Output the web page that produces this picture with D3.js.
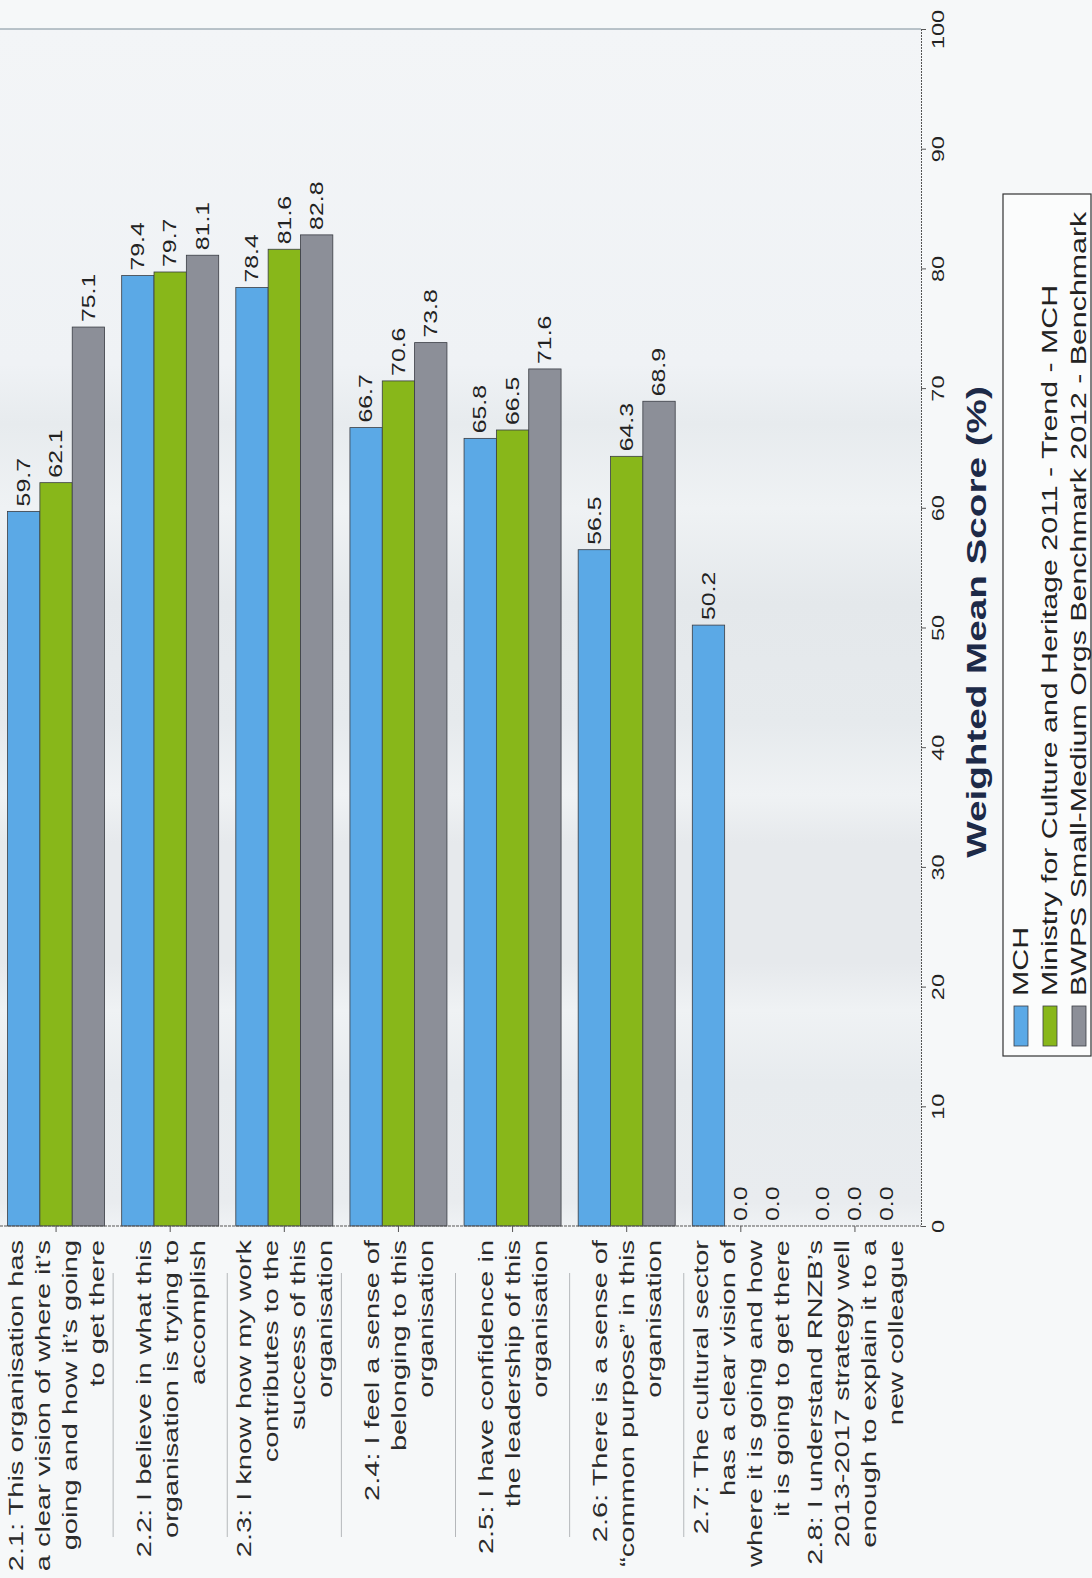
<!DOCTYPE html>
<html>
<head>
<meta charset="utf-8">
<script src="https://cdn.jsdelivr.net/npm/d3@7"></script>
<style>
  html, body { margin: 0; padding: 0; background: #f6f8f9; }
  svg { display: block; font-family: "Liberation Sans", Arial, sans-serif; }
</style>
</head>
<body>
<svg id="chart" width="1092" height="1578"></svg>
<script>
// ---------------- DATA ----------------
const categories = ["2.1", "2.2", "2.3", "2.4", "2.5", "2.6", "2.7", "2.8"];
const categoryLabels = [
  ["2.1: This organisation has", "a clear vision of where it’s", "going and how it’s going", "to get there"],
  ["2.2: I believe in what this", "organisation is trying to", "accomplish"],
  ["2.3: I know how my work", "contributes to the", "success of this", "organisation"],
  ["2.4: I feel a sense of", "belonging to this", "organisation"],
  ["2.5: I have confidence in", "the leadership of this", "organisation"],
  ["2.6: There is a sense of", "“common purpose” in this", "organisation"],
  ["2.7: The cultural sector", "has a clear vision of", "where it is going and how", "it is going to get there"],
  ["2.8: I understand RNZB’s", "2013-2017 strategy well", "enough to explain it to a", "new colleague"]
];
const seriesNames = [
  "MCH",
  "Ministry for Culture and Heritage 2011 - Trend - MCH",
  "BWPS Small-Medium Orgs Benchmark 2012 - Benchmark"
];
const mchValues    = [59.7, 79.4, 78.4, 66.7, 65.8, 56.5, 50.2, 0.0];
const trendValues  = [62.1, 79.7, 81.6, 70.6, 66.5, 64.3, 0.0, 0.0];
const benchValues  = [75.1, 81.1, 82.8, 73.8, 71.6, 68.9, 0.0, 0.0];
const valueTicks   = [0, 10, 20, 30, 40, 50, 60, 70, 80, 90, 100];
const axisTitle    = "Weighted Mean Score (%)";

// ---------------- STYLE ----------------
const colors = ["#5ba9e6", "#88b71a", "#8c8f98"];
const STRETCH = 1.38; // scanned page is stretched along the text direction
const plot = { left: 0, right: 921, top: 29, bottom: 1226 };

const svg = d3.select("#chart");
const defs = svg.append("defs");
const grad = defs.append("linearGradient").attr("id", "bg").attr("x1", 0).attr("y1", 0).attr("x2", 0).attr("y2", 1);
[[0, "#f3f5f7"], [0.28, "#eff2f5"], [0.33, "#e7ebee"], [0.4, "#eff2f4"], [0.48, "#e4e8eb"], [0.58, "#e6eaed"],
 [0.64, "#eff2f4"], [0.68, "#e6e9ec"], [0.78, "#e6e9ec"], [0.82, "#eff2f4"], [0.88, "#e7ebee"], [0.98, "#e9ecef"], [1, "#eff2f4"]]
  .forEach(([o, c]) => grad.append("stop").attr("offset", o).attr("stop-color", c));

svg.append("rect").attr("x", plot.left).attr("y", plot.top)
  .attr("width", plot.right - plot.left).attr("height", plot.bottom - plot.top)
  .attr("fill", "url(#bg)");

// ---------------- SCALES ----------------
const x = d3.scaleBand().domain(categories).range([-1, 912]).paddingInner(0.15).paddingOuter(0.075);
const xs = d3.scaleBand().domain([0, 1, 2]).range([0, x.bandwidth()]);
const y = d3.scaleLinear().domain([0, 100]).range([plot.bottom, plot.top]);

const series = [mchValues, trendValues, benchValues];

function rot(sel, tx, ty) {
  return sel.attr("transform", `translate(${tx},${ty}) rotate(-90) scale(${STRETCH},1)`);
}

// top border
svg.append("line").attr("x1", plot.left).attr("x2", plot.right).attr("y1", plot.top).attr("y2", plot.top)
  .attr("stroke", "#7d8e99").attr("stroke-width", 1.2);

// ---------------- BARS ----------------
const groups = svg.append("g").selectAll("g").data(categories).join("g")
  .attr("transform", d => `translate(${x(d)},0)`);

groups.each(function (cat, ci) {
  const g = d3.select(this);
  series.forEach((vals, si) => {
    const v = vals[ci];
    if (v > 0) {
      g.append("rect")
        .attr("x", xs(si)).attr("width", xs.bandwidth())
        .attr("y", y(v)).attr("height", y(0) - y(v))
        .attr("fill", colors[si]).attr("stroke", "#3a3d44").attr("stroke-width", 0.8);
    }
    const t = g.append("text").text(v.toFixed(1))
      .attr("font-size", 18).attr("fill", "#222")
      .attr("text-anchor", "start").attr("dominant-baseline", "central");
    rot(t, xs(si) + xs.bandwidth() / 2, y(v) - 5);
  });
});

// ---------------- AXES ----------------
const yAxis = svg.append("g").attr("transform", `translate(${plot.right},0)`)
  .call(d3.axisRight(y).tickValues(valueTicks).tickSize(5).tickFormat(d3.format("d")));
yAxis.select(".domain").attr("stroke", "#555").attr("stroke-dasharray", "2,1");
yAxis.selectAll(".tick line").attr("stroke", "#555");
yAxis.selectAll(".tick text")
  .attr("x", 0).attr("dy", null).attr("y", 0)
  .attr("font-size", 17).attr("fill", "#222")
  .attr("font-family", "Liberation Sans, Arial, sans-serif")
  .attr("text-anchor", "middle").attr("dominant-baseline", "central")
  .attr("transform", `translate(17,0) rotate(-90) scale(${STRETCH},1)`);

const xAxis = svg.append("g").attr("transform", `translate(0,${plot.bottom})`)
  .call(d3.axisBottom(x).tickSize(6).tickFormat(""));
xAxis.select(".domain").attr("d", `M${plot.left},0H${plot.right}`).attr("stroke", "#555").attr("stroke-dasharray", "3,1");
xAxis.selectAll(".tick line").attr("stroke", "#555");

// category labels
categories.forEach((cat, ci) => {
  const lines = categoryLabels[ci];
  const cx = x(cat) + x.bandwidth() / 2;
  const t = svg.append("text").attr("font-size", 21).attr("fill", "#2b2b2b")
    .attr("text-anchor", "end").attr("dominant-baseline", "central");
  rot(t, cx, 1240);
  lines.forEach((ln, li) => {
    t.append("tspan").attr("x", 0).attr("y", (li - (lines.length - 1) / 2) * 27).text(ln);
  });
});

// separators between category labels
categories.slice(1, 7).forEach(cat => {
  const bx = x(cat) - (x.step() - x.bandwidth()) / 2;
  svg.append("line").attr("x1", bx).attr("x2", bx).attr("y1", 1273).attr("y2", 1537)
    .attr("stroke", "#b5b8bb").attr("stroke-width", 1);
});

// axis title
rot(svg.append("text").text(axisTitle)
  .attr("font-size", 28).attr("font-weight", "bold").attr("fill", "#1d2a48")
  .attr("text-anchor", "middle").attr("dominant-baseline", "central"), 976, 622);

// ---------------- LEGEND ----------------
const legend = { left: 1003, top: 194, right: 1091, bottom: 1056 };
svg.append("rect").attr("x", legend.left).attr("y", legend.top)
  .attr("width", legend.right - legend.left).attr("height", legend.bottom - legend.top)
  .attr("fill", "#fbfcfc").attr("stroke", "#333").attr("stroke-width", 1.2);

seriesNames.forEach((name, si) => {
  const cx = 1021 + si * 29;
  svg.append("rect").attr("x", cx - 7).attr("y", 1006).attr("width", 14).attr("height", 40)
    .attr("fill", colors[si]).attr("stroke", "#3a3d44").attr("stroke-width", 0.8);
  rot(svg.append("text").text(name)
    .attr("font-size", 22).attr("fill", "#222")
    .attr("text-anchor", "start").attr("dominant-baseline", "central"), cx, 996);
});
</script>
</body>
</html>
